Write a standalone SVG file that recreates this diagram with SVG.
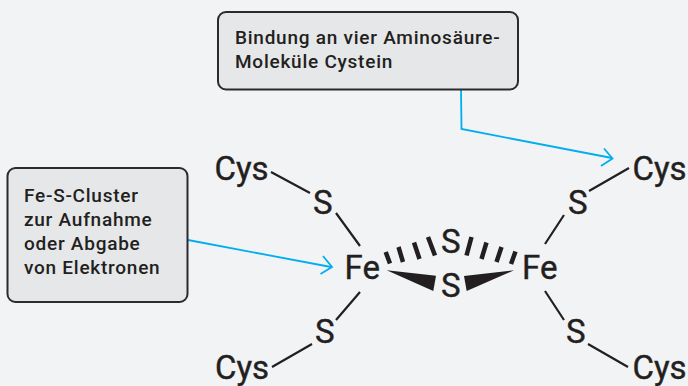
<svg xmlns="http://www.w3.org/2000/svg" width="688" height="386" viewBox="0 0 688 386">
<style>
text{font-family:Roboto,"Liberation Sans",sans-serif;fill:#231f20}
.l{font-size:19px;font-weight:500;letter-spacing:.75px}
.a{font-size:33px;font-weight:400;stroke:#231f20;stroke-width:.4px}
.b{fill:#e6e7e9;stroke:#2b2a2c;stroke-width:2}
.c{fill:none;stroke:#00aeef;stroke-width:1.8}
.k{stroke:#231f20;stroke-width:2.2;fill:none}
.w{stroke:#231f20;stroke-width:4.500;fill:none}
</style>
<rect width="688" height="386" fill="#f2f3f5"/>
<g id="connectors">
<path class="c" d="M461 90L461.500 129L612 158"/>
<path class="c" d="M604 148.500L612.500 158.500L601 166"/>
<path class="c" d="M188 240L331 267"/>
<path class="c" d="M323 256L332 267L320.500 274"/>
<path class="k" d="M271 172L310 193M336 213L360 246M360 292L336 320M312 344L272 367M629 168L589 191M564 215L545 244M545 291L564 320M588 344L628 367"/>
<path class="w" d="M385.700 252L390 263.500M398.500 247L403 262M414 242.500L419.500 259M428 237L435 255.500M471.500 237L466.500 255.500M486.500 242.500L481.500 259M501.500 247L496.500 262M515.500 251.500L511 264"/>
</g>
<g id="wedges" fill="#231f20">
<path d="M386.700 270.300L436 275.700L433.300 291Z"/>
<path d="M514 270.300L464 276L466.700 291Z"/>
</g>
<g id="note-top">
<rect class="b" x="218" y="12" width="300" height="77.500" rx="8"/>
<text class="l" x="235" y="44">Bindung an vier Aminosäure-</text>
<text class="l" x="235" y="68">Moleküle Cystein</text>
</g>
<g id="note-left">
<rect class="b" x="7.500" y="168" width="180" height="134" rx="8"/>
<text class="l" x="24" y="202">Fe-S-Cluster</text>
<text class="l" x="24" y="226">zur Aufnahme</text>
<text class="l" x="24" y="250">oder Abgabe</text>
<text class="l" x="24" y="274">von Elektronen</text>
</g>
<g id="atoms">
<text class="a" x="214.500" y="180">Cys</text>
<text class="a" x="313" y="214">S</text>
<text class="a" x="344.500" y="279">Fe</text>
<text class="a" x="441" y="253">S</text>
<text class="a" x="441" y="297">S</text>
<text class="a" x="522" y="279">Fe</text>
<text class="a" x="568" y="214">S</text>
<text class="a" x="632.500" y="180">Cys</text>
<text class="a" x="315" y="343">S</text>
<text class="a" x="215" y="378.500">Cys</text>
<text class="a" x="566" y="343">S</text>
<text class="a" x="632.500" y="378.500">Cys</text>
</g>
</svg>
